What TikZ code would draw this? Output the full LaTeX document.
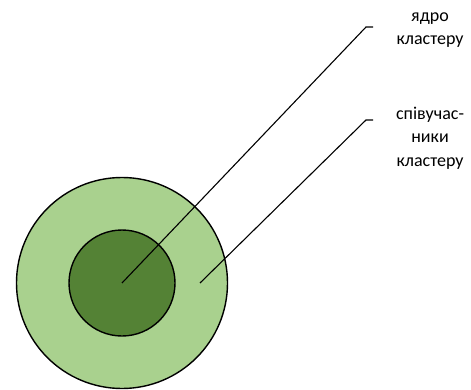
\documentclass[tikz,border=0pt]{standalone}
\usepackage{fontspec}
\setmainfont{Carlito}
\definecolor{outerg}{HTML}{A9D18E}
\definecolor{innerg}{HTML}{548235}
\begin{document}
\begin{tikzpicture}[x=1pt,y=-1pt,
  ring/.style={circle,draw=black,line width=1.4pt,inner sep=0pt},
  leader/.style={draw=black,line width=1.1pt},
  lbl/.style={align=center,font=\fontsize{18}{23.5}\selectfont,inner sep=0pt}]
\useasboundingbox (0,0) rectangle (471,390);
\node[ring,fill=outerg,minimum size=211pt] (outer) at (122,283) {};
\node[ring,fill=innerg,minimum size=106pt] (inner) at (122,283) {};
\coordinate (c1) at (122,283);
\coordinate (c2) at (200,283);
\coordinate (b1) at (366,27);
\coordinate (e1) at (373,27);
\coordinate (b2) at (366,120);
\coordinate (e2) at (373,120);
\draw[leader] (c1) -- (b1) -- (e1);
\draw[leader] (c2) -- (b2) -- (e2);
\node[lbl] (t1) at (430,30) {ядро\\кластеру};
\node[lbl] (t2) at (430,138) {співучас-\\ники\\кластеру};
\end{tikzpicture}
\end{document}
